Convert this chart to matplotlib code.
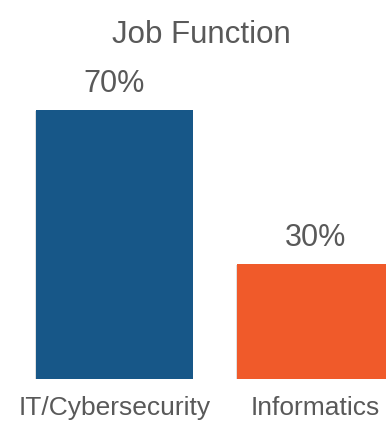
import matplotlib
matplotlib.use("Agg")
import matplotlib.pyplot as plt
import matplotlib.patheffects as pe

categories = ["IT/Cybersecurity", "Informatics"]
shares = [70, 30]
bar_colors = ["#175788", "#F05A2A"]
title = "Job Function"

plt.rcParams["font.family"] = ["Liberation Sans", "DejaVu Sans"]
text_color = "#595959"

fig = plt.figure(figsize=(3.86, 4.23), dpi=100)
ax = fig.add_axes([0, 44 / 423, 1, 269 / 423])

pos = list(range(len(categories)))
bars = ax.bar(pos, shares, width=0.781, color=bar_colors, zorder=2)
for b in bars:
    b.set_path_effects([pe.SimplePatchShadow(offset=(-1, -1), shadow_rgbFace="#000000", alpha=0.12), pe.Normal()])

for x, v in zip(pos, shares):
    ax.annotate(f"{v}%", (x, v), xytext=(0, 13), textcoords="offset points",
                ha="center", va="baseline", fontsize=22, color=text_color,
                annotation_clip=False)

ax.set_xlim(-114.5 / 201, (386 - 114.5) / 201)
ax.set_ylim(0, 70)
ax.set_xticks(pos)
ax.set_xticklabels(categories, fontsize=19, color=text_color)
ax.tick_params(axis="x", length=0, pad=12)
ax.set_yticks([])
for s in ax.spines.values():
    s.set_visible(False)
ax.patch.set_alpha(0)

fig.text(201 / 386, (423 - 43) / 423, title, ha="center", va="baseline",
         fontsize=22.5, color=text_color)

fig.savefig("out.png", dpi=100)
